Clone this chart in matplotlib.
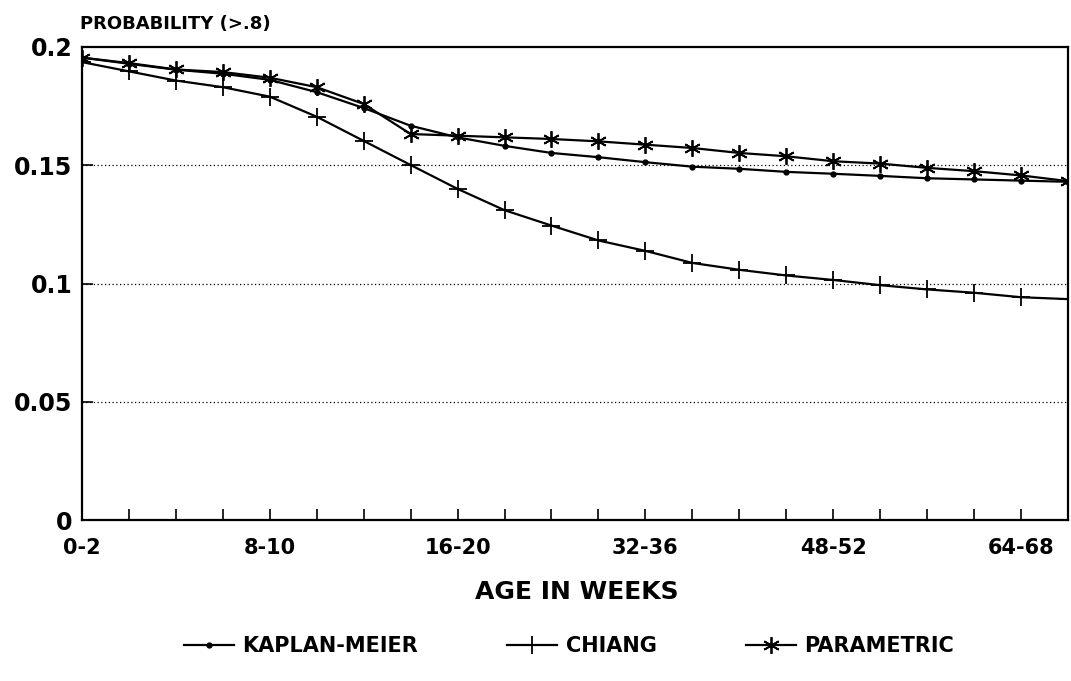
import numpy as np
import matplotlib
matplotlib.use("Agg")
import matplotlib.pyplot as plt

# age groups (weeks)
ages = ['0-2', '2-4', '4-6', '6-8', '8-10', '10-12', '12-14', '14-16',
        '16-20', '20-24', '24-28', '28-32', '32-36', '36-40', '40-44', '44-48',
        '48-52', '52-56', '56-60', '60-64', '64-68', '68-72']

kaplan = [0.1955, 0.1929, 0.1904, 0.1887, 0.1861, 0.1809, 0.1742, 0.1667,
          0.1618, 0.1582, 0.1552, 0.1534, 0.1513, 0.1494, 0.1485, 0.1472,
          0.1464, 0.1455, 0.1445, 0.1440, 0.1435, 0.1430]
chiang = [0.1936, 0.1897, 0.1858, 0.1830, 0.1790, 0.1705, 0.1603, 0.1501,
          0.1400, 0.1310, 0.1245, 0.1182, 0.1138, 0.1087, 0.1058, 0.1034,
          0.1015, 0.0993, 0.0975, 0.0961, 0.0942, 0.0934]
param = [0.1955, 0.1932, 0.1905, 0.1894, 0.1870, 0.1830, 0.1759, 0.1632,
         0.1625, 0.1618, 0.1611, 0.1601, 0.1587, 0.1573, 0.1552, 0.1538,
         0.1517, 0.1507, 0.1489, 0.1475, 0.1457, 0.1433]

yticks = [0, 0.05, 0.1, 0.15, 0.2]
ylabels = ['0', '0.05', '0.1', '0.15', '0.2']

plt.rcParams['font.family'] = ['DejaVu Sans']
plt.rcParams['font.weight'] = 'bold'

fig = plt.figure(figsize=(10.71, 6.81), dpi=100)
ax = fig.add_axes([0.0766, 0.2364, 0.9204, 0.6946])

x = np.arange(len(ages))
ax.plot(x, kaplan, color='black', lw=1.6, marker='o', ms=3.5, label='KAPLAN-MEIER')
ax.plot(x, chiang, color='black', lw=1.6, marker='+', ms=13, mew=1.3, label='CHIANG')
ax.plot(x, param, color='black', lw=1.6, marker=(6, 2, 0), ms=12, mew=1.3, label='PARAMETRIC')

for g in [0.05, 0.1, 0.15]:
    ax.axhline(g, color='black', lw=0.9, ls=(0, (1, 2)), zorder=0)

ax.set_xlim(0, len(ages) - 1)
ax.set_ylim(0, 0.2)
ax.set_xticks(x)
ax.set_xticklabels([a if i % 4 == 0 else '' for i, a in enumerate(ages)],
                   fontsize=15, fontweight='bold')
ax.set_yticks(yticks)
ax.set_yticklabels(ylabels, fontsize=17, fontweight='bold')
ax.tick_params(axis='x', direction='in', length=8, width=1.2, pad=13)
ax.tick_params(axis='y', direction='in', length=8, width=1.2, pad=7)
for s in ax.spines.values():
    s.set_linewidth(1.6)

fig.text(80 / 1071, 0.965, 'PROBABILITY (>.8)', fontsize=13, fontweight='bold',
         ha='left', va='center')
fig.text(577 / 1071, 0.131, 'AGE IN WEEKS', fontsize=18, fontweight='bold',
         ha='center', va='center')

fig.legend(loc='center', bbox_to_anchor=(569 / 1071, 0.0514), ncol=3, frameon=False,
           prop={'size': 15, 'weight': 'bold'}, handlelength=2.4, handletextpad=0.4,
           columnspacing=4.3)

fig.savefig('out.png', dpi=100)
